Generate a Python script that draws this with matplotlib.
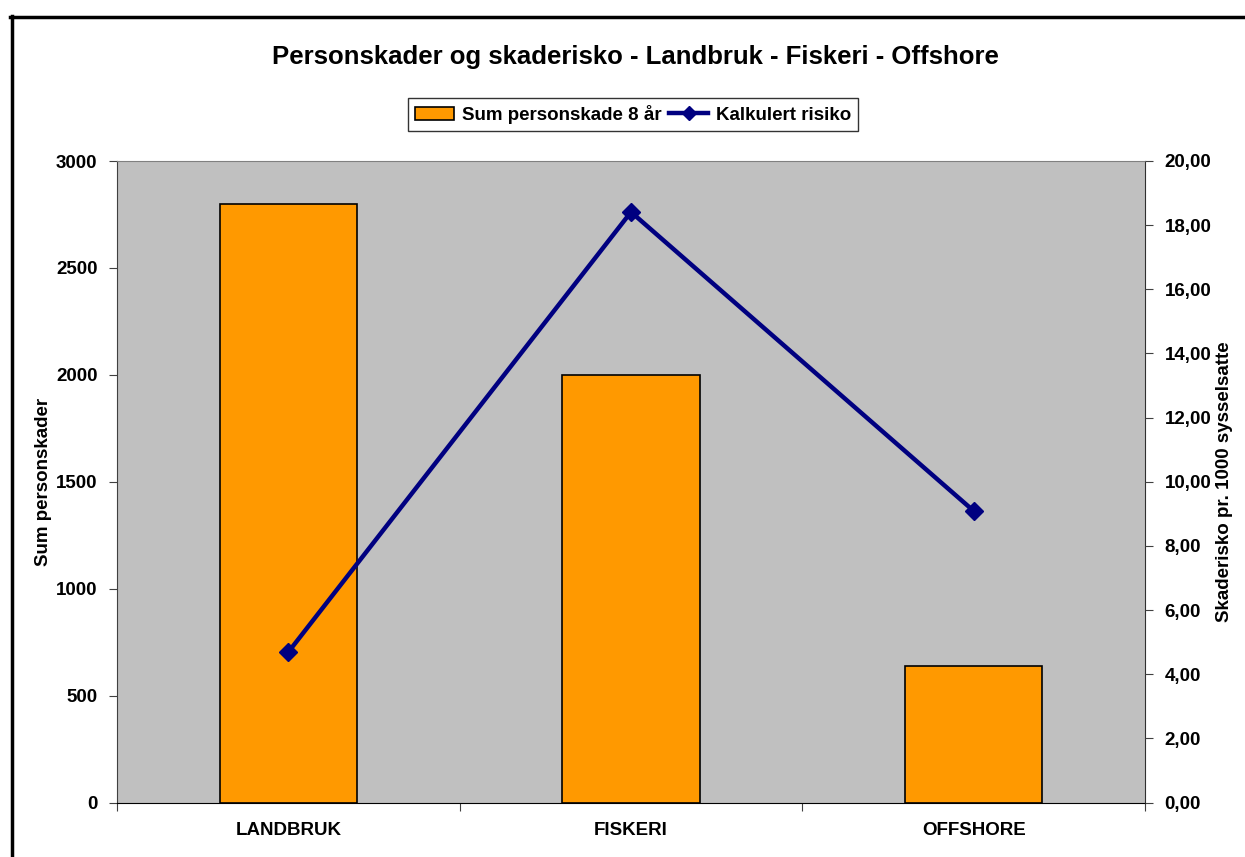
import matplotlib
matplotlib.use("Agg")
import matplotlib.pyplot as plt
from matplotlib.lines import Line2D
from matplotlib.patches import Patch
import numpy as np

categories = ["LANDBRUK", "FISKERI", "OFFSHORE"]
personskader = [2800, 2000, 640]
risiko = [4.69, 18.41, 9.09]
left_ticks = [0, 500, 1000, 1500, 2000, 2500, 3000]
right_ticks = [0, 2, 4, 6, 8, 10, 12, 14, 16, 18, 20]

plt.rcParams['font.family'] = ['Liberation Sans', 'DejaVu Sans']
plt.rcParams['font.weight'] = 'bold'

FS = 13.5
W, H = 1245, 857
fig = plt.figure(figsize=(W/100, H/100), dpi=100)
L, R, T, B = 117, 1145, 161, 802.5
ax = fig.add_axes([L/W, 1-B/H, (R-L)/W, (B-T)/H])
ax.set_facecolor('#c0c0c0')
x = np.arange(len(categories))
ax.bar(x, personskader, width=0.4, color='#ff9900', edgecolor='black', linewidth=1.2, zorder=2)
ax.set_xlim(-0.5, 2.5)
ax.set_ylim(0, 3000)
ax.set_yticks(left_ticks)
ax.set_yticklabels([str(t) for t in left_ticks], fontsize=FS, fontweight='bold')
ax.set_xticks([-0.5, 0.5, 1.5, 2.5])
ax.set_xticklabels([])
ax.set_xticks(x, minor=True)
ax.set_xticklabels(categories, minor=True, fontsize=FS, fontweight='bold')
ax.tick_params(axis='x', which='minor', length=0, pad=14)
ax.tick_params(axis='x', which='major', length=6, direction='out', color='#404040')
ax.tick_params(axis='y', length=6, direction='out', pad=8, color='#404040')
ax.set_ylabel("Sum personskader", fontsize=FS, fontweight='bold')
ax.yaxis.set_label_coords((52-L)/(R-L), 0.5)
ax.spines['top'].set_color('#808080')
ax.spines['left'].set_color('#404040')
ax.spines['bottom'].set_color('black')
ax.spines['right'].set_color('#303030')

ax2 = ax.twinx()
ax2.plot(x, risiko, color='#000080', linewidth=3.2, marker='D', markersize=9, zorder=3)
ax2.set_ylim(0, 20)
ax2.set_yticks(right_ticks)
ax2.set_yticklabels([f"{t:.2f}".replace('.', ',') for t in right_ticks], fontsize=FS, fontweight='bold')
ax2.tick_params(axis='y', length=6, direction='out', pad=8, color='#404040')
ax2.set_ylabel("Skaderisko pr. 1000 sysselsatte", fontsize=FS, fontweight='bold')
ax2.yaxis.set_label_coords((1216-L)/(R-L), 0.5)
for s in ax2.spines.values():
    s.set_visible(False)

fig.text(635/W, 1-57/H, "Personskader og skaderisko - Landbruk - Fiskeri - Offshore",
         ha='center', va='center', fontsize=18.5, fontweight='bold')

handles = [Patch(facecolor='#ff9900', edgecolor='black', linewidth=1.2),
           Line2D([0], [0], color='#000080', linewidth=3.2, marker='D', markersize=7)]
leg = fig.legend(handles, ["Sum personskade 8 år", "Kalkulert risiko"],
                 loc='center', bbox_to_anchor=(633/W, 1-114.5/H), ncol=2,
                 prop={'size': FS, 'weight': 'bold'}, frameon=True, fancybox=False,
                 edgecolor='black', borderpad=0.35, handlelength=2.1, handletextpad=0.4,
                 columnspacing=0.4, borderaxespad=0)
leg.get_frame().set_linewidth(1.0)

# outer chart border (extends beyond the image at right and bottom)
fig.add_artist(Line2D([10/W, 1.0], [1-16.5/H, 1-16.5/H], color='black', linewidth=2.5, transform=fig.transFigure))
fig.add_artist(Line2D([12/W, 12/W], [0, 1-15.5/H], color='black', linewidth=2.5, transform=fig.transFigure))

fig.savefig("out.png", dpi=100)
